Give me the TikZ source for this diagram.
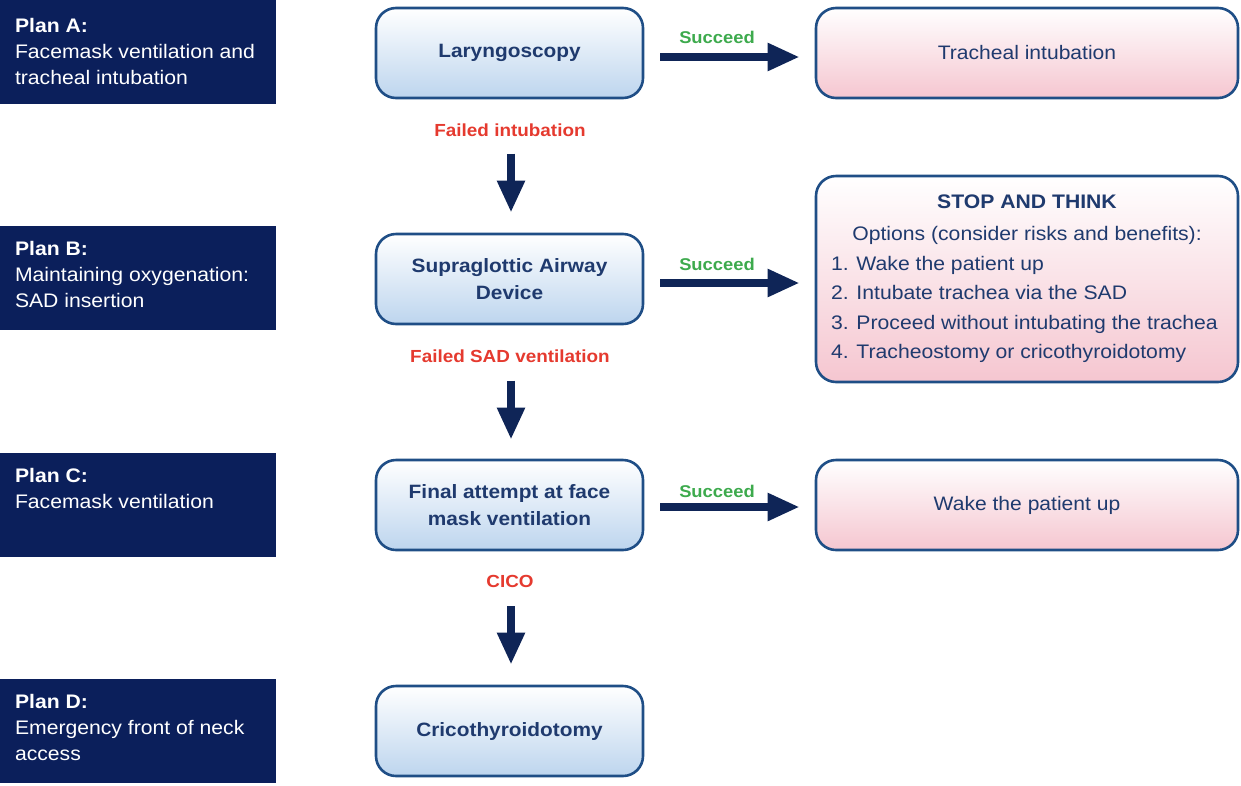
\documentclass[tikz,border=0pt]{standalone}
\usepackage{fontspec}
\setmainfont{Liberation Sans}[FakeStretch=1.08]
\usetikzlibrary{arrows.meta,calc}
\definecolor{plannavy}{HTML}{0B1F5B}
\definecolor{boxline}{HTML}{1F4E86}
\definecolor{boxtext}{HTML}{1F3A6E}
\definecolor{arrowblue}{HTML}{0F2557}
\definecolor{okgreen}{HTML}{3DAA4D}
\definecolor{failred}{HTML}{E53A2F}
\definecolor{lightblue}{HTML}{BDD5EE}
\definecolor{lightpink}{HTML}{F5C6D0}
\begin{document}
\begin{tikzpicture}[x=1pt,y=-1pt,
  planbox/.style={fill=plannavy, minimum width=276pt, minimum height=104pt, inner sep=0pt},
  plantext/.style={anchor=north west, text=white, align=left, inner sep=0pt,
    font=\fontsize{19.6}{26.2}\selectfont},
  cbox/.style={draw=boxline, line width=2.6pt, rounded corners=20pt, top color=white, bottom color=lightblue,
    minimum width=267pt, minimum height=90pt, text=boxtext, align=center,
    font=\fontsize{19.3}{27}\selectfont\bfseries},
  rbox/.style={draw=boxline, line width=2.6pt, rounded corners=20pt, top color=white, bottom color=lightpink,
    minimum width=422pt, minimum height=90pt, text=boxtext, align=center,
    font=\fontsize{19.5}{27}\selectfont},
  oklabel/.style={text=okgreen, font=\fontsize{17}{19}\selectfont\bfseries, inner sep=1pt},
  faillabel/.style={text=failred, font=\fontsize{17.5}{19}\selectfont\bfseries, inner sep=1pt},
  bigarrow/.style={draw=arrowblue, line width=8pt, -{Triangle[length=32pt,width=26pt]}}
]
\useasboundingbox (0,0) rectangle (1241,785);

% Plan boxes
\node[planbox] (pa) at (138,52) {};
\node[plantext] (pat) at ($(pa.north west)+(15,18)$) {\textbf{Plan A:}\\Facemask ventilation and\\tracheal intubation};
\node[planbox] (pb) at (138,278) {};
\node[plantext] (pbt) at ($(pb.north west)+(15,15)$) {\textbf{Plan B:}\\Maintaining oxygenation:\\SAD insertion};
\node[planbox] (pc) at (138,505) {};
\node[plantext] (pct) at ($(pc.north west)+(15,15)$) {\textbf{Plan C:}\\Facemask ventilation};
\node[planbox] (pd) at (138,731) {};
\node[plantext] (pdt) at ($(pd.north west)+(15,15)$) {\textbf{Plan D:}\\Emergency front of neck\\access};

% Center boxes
\node[cbox] (lar) at (509.5,53) {\raisebox{-2.5pt}{Laryngoscopy}};
\node[cbox] (sad) at (509.5,279) {Supraglottic Airway\\Device};
\node[cbox] (fin) at (509.5,505) {Final attempt at face\\mask ventilation};
\node[cbox] (cri) at (509.5,731) {\raisebox{-2.5pt}{Cricothyroidotomy}};

% Right boxes
\node[rbox] (tra) at (1027,53) {\raisebox{-2pt}{Tracheal intubation}};
\node[rbox, minimum height=206pt] (stp) at (1027,279) {%
  \raisebox{-3pt}{\begin{minipage}{392pt}\fontsize{19.6}{29.6}\selectfont
  \makebox[\linewidth]{\bfseries STOP AND THINK}\\[2pt]
  \makebox[\linewidth]{Options (consider risks and benefits):}\\
  1. Wake the patient up\\
  2. Intubate trachea via the SAD\\
  3. Proceed without intubating the trachea\\
  4. Tracheostomy or cricothyroidotomy
  \end{minipage}}};
\node[rbox] (wak) at (1027,505) {\raisebox{-2pt}{Wake the patient up}};

% Labels
\node[oklabel] (s1) at (717,37) {Succeed};
\node[oklabel] (s2) at (717,264) {Succeed};
\node[oklabel] (s3) at (717,491) {Succeed};
\node[faillabel] (f1) at (510,130) {Failed intubation};
\node[faillabel] (f2) at (510,356) {Failed SAD ventilation};
\node[faillabel] (f3) at (510,581) {CICO};

% Horizontal arrows
\draw[bigarrow] ($(lar.east)+(16,4)$) -- ($(tra.west)+(-15,4)$);
\draw[bigarrow] ($(sad.east)+(16,4)$) -- ($(stp.west)+(-15,4)$);
\draw[bigarrow] ($(fin.east)+(16,2)$) -- ($(wak.west)+(-15,2)$);

% Vertical arrows
\draw[bigarrow] ($(f1.south)+(1,16)$) -- ($(sad.north)+(1.5,-20)$);
\draw[bigarrow] ($(f2.south)+(1,17)$) -- ($(fin.north)+(1.5,-19)$);
\draw[bigarrow] ($(f3.south)+(1,18)$) -- ($(cri.north)+(1.5,-20)$);
\end{tikzpicture}
\end{document}
